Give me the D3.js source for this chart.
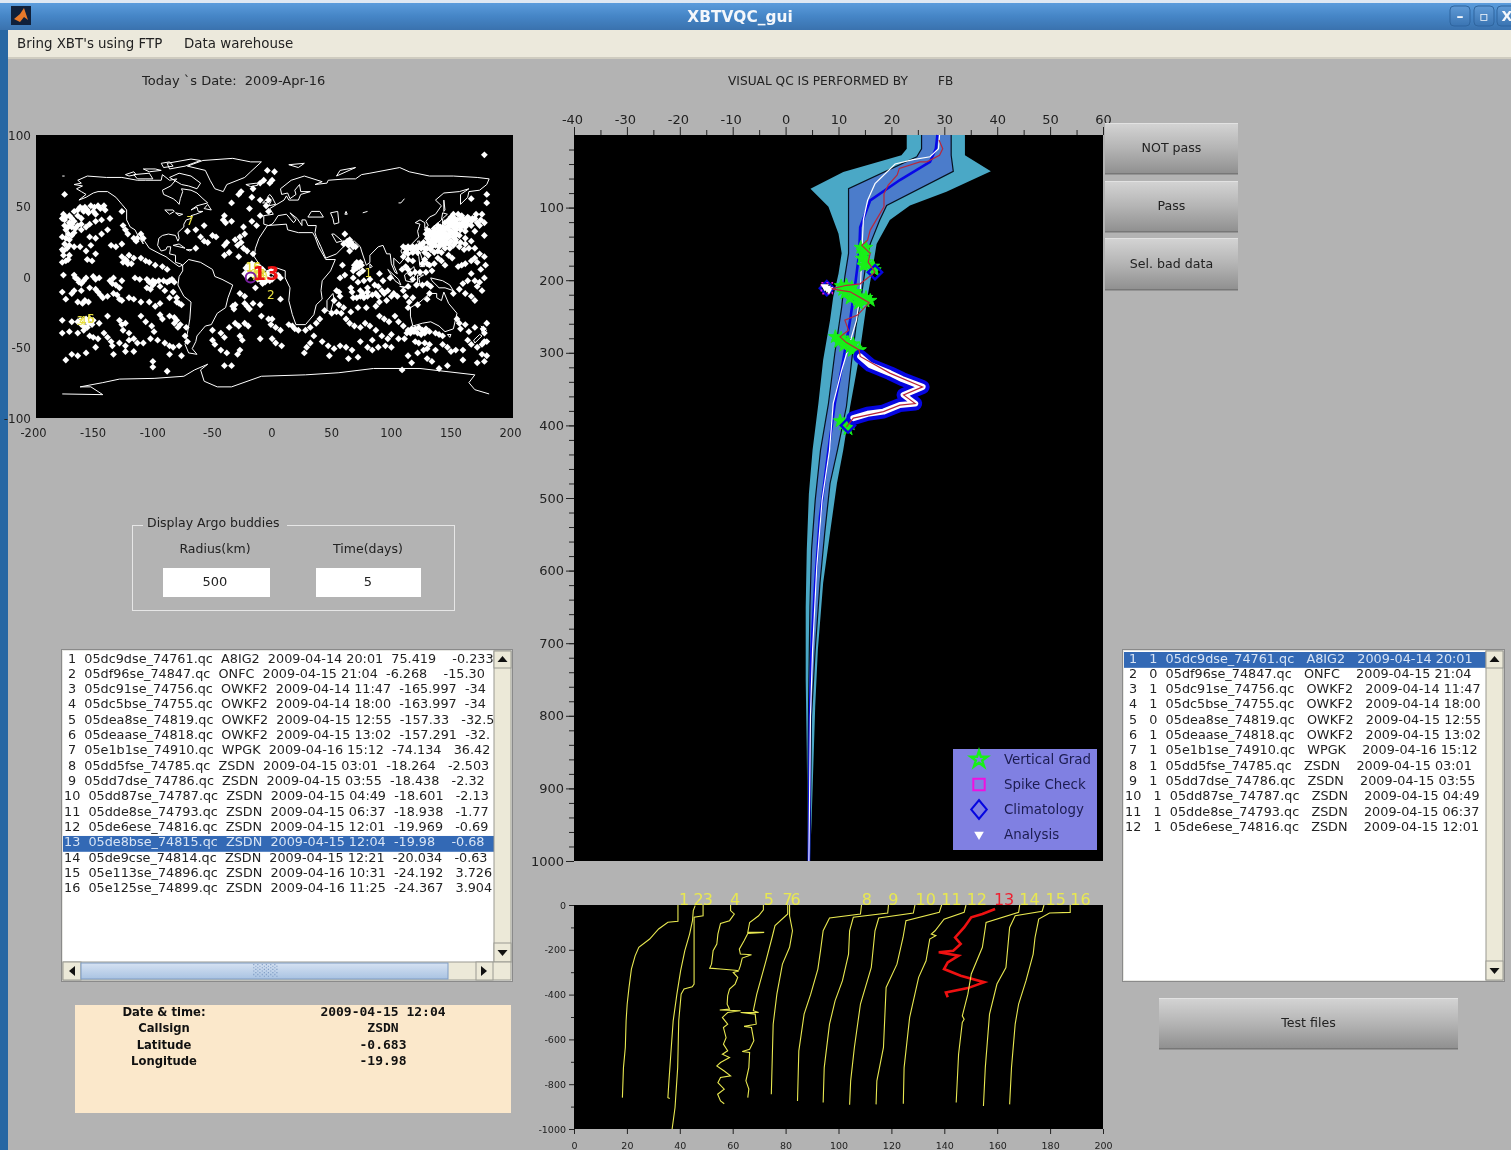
<!DOCTYPE html>
<html>
<head>
<meta charset="utf-8">
<title>XBTVQC_gui</title>
<script src="https://cdn.jsdelivr.net/npm/d3@7"></script>
<style>
html, body { margin: 0; padding: 0; background: #b3b3b3; overflow: hidden; }
svg { filter: blur(0.35px); }
text { font-family: "DejaVu Sans", sans-serif; fill: #222; white-space: pre; }
.tick text { font-family: "DejaVu Sans", sans-serif; fill: #222; }
.tick line { stroke: #222; }
.domain { display: none; }
</style>
</head>
<body>
<div id="gui"></div>
<script>
//Data

//list boxes
var xbtRows = [
  "1  05dc9dse_74761.qc  A8IG2  2009-04-14 20:01  75.419    -0.233",
  "2  05df96se_74847.qc  ONFC  2009-04-15 21:04  -6.268    -15.30",
  "3  05dc91se_74756.qc  OWKF2  2009-04-14 11:47  -165.997  -34",
  "4  05dc5bse_74755.qc  OWKF2  2009-04-14 18:00  -163.997  -34",
  "5  05dea8se_74819.qc  OWKF2  2009-04-15 12:55  -157.33   -32.5",
  "6  05deaase_74818.qc  OWKF2  2009-04-15 13:02  -157.291  -32.",
  "7  05e1b1se_74910.qc  WPGK  2009-04-16 15:12  -74.134   36.42",
  "8  05dd5fse_74785.qc  ZSDN  2009-04-15 03:01  -18.264   -2.503",
  "9  05dd7dse_74786.qc  ZSDN  2009-04-15 03:55  -18.438   -2.32",
  "10  05dd87se_74787.qc  ZSDN  2009-04-15 04:49  -18.601   -2.13",
  "11  05dde8se_74793.qc  ZSDN  2009-04-15 06:37  -18.938   -1.77",
  "12  05de6ese_74816.qc  ZSDN  2009-04-15 12:01  -19.969   -0.69",
  "13  05de8bse_74815.qc  ZSDN  2009-04-15 12:04  -19.98    -0.68",
  "14  05de9cse_74814.qc  ZSDN  2009-04-15 12:21  -20.034   -0.63",
  "15  05e113se_74896.qc  ZSDN  2009-04-16 10:31  -24.192   3.726",
  "16  05e125se_74899.qc  ZSDN  2009-04-16 11:25  -24.367   3.904"
];
var qcRows = [
  "1   1  05dc9dse_74761.qc   A8IG2   2009-04-14 20:01",
  "2   0  05df96se_74847.qc   ONFC    2009-04-15 21:04",
  "3   1  05dc91se_74756.qc   OWKF2   2009-04-14 11:47",
  "4   1  05dc5bse_74755.qc   OWKF2   2009-04-14 18:00",
  "5   0  05dea8se_74819.qc   OWKF2   2009-04-15 12:55",
  "6   1  05deaase_74818.qc   OWKF2   2009-04-15 13:02",
  "7   1  05e1b1se_74910.qc   WPGK    2009-04-16 15:12",
  "8   1  05dd5fse_74785.qc   ZSDN    2009-04-15 03:01",
  "9   1  05dd7dse_74786.qc   ZSDN    2009-04-15 03:55",
  "10   1  05dd87se_74787.qc   ZSDN    2009-04-15 04:49",
  "11   1  05dde8se_74793.qc   ZSDN    2009-04-15 06:37",
  "12   1  05de6ese_74816.qc   ZSDN    2009-04-15 12:01"
];
var infoLabels = ["Date & time:", "Callsign", "Latitude", "Longitude"];
var infoValues = ["2009-04-15 12:04", "ZSDN", "-0.683", "-19.98"];
var legendLabels = ["Vertical Grad", "Spike Check", "Climatology", "Analysis"];

//map: [lon, lat]
var mapTicksX = [-200, -150, -100, -50, 0, 50, 100, 150, 200];
var mapTicksY = [-100, -50, 0, 50, 100];
var buddyLabels = [
  ["1", 75.4, -0.2], ["2", -6.3, -15.3], ["3", -166, -34], ["4", -164, -34], ["5", -157.3, -32.5], ["6", -157.3, -32.3],
  ["7", -74.1, 36.4], ["8", -18.3, -2.5], ["9", -18.4, -2.3], ["10", -18.6, -2.1], ["11", -18.9, -1.8], ["12", -20, -0.7],
  ["14", -20, -0.6], ["15", -24.2, 3.7], ["16", -24.4, 3.9]
];
var selectedBuddy = ["13", -19.98, -0.68];
var argoPoints = [
  //north pacific
  [-176,58],[-163,49],[-161,48],[-159,49],[-157,47],[-154,50],[-151,49],[-148,50],[-146,48],[-143,50],[-142,47],[-178,41],[-175,42],[-172,43],[-170,41],[-168,39],[-172,38],[-176,40],[-165,43],[-162,41],[-175,33],[-170,35],[-167,34],[-165,36],[-162,33],[-158,35],[-155,37],[-150,39],[-145,40],[-140,33],[-138,41],[-128,46],[-127,36],[-125,33],[-123,30],[-118,27],[-116,25],[-115,27],[-112,30],[-110,27],[-155,28],[-150,27],[-145,30],[-176,23],[-174,20],[-177,18],[-172,22],[-168,21],[-163,21],[-158,18],[-154,22],[-150,16],[-172,15],[-177,15],[-175,11],[-173,12],[-178,10],[-157,12],[-153,11],[-137,22],[-133,21],[-128,23],[-122,15],[-128,14],[-125,12],[-124,11],[-127,10],[-123,9],[-120,9],[-118,13],[-112,13],[-108,11],[-105,10],[-100,8],[-94,7],[-90,5],
  //tropical pacific
  [-177,1],[-168,1],[-167,-1],[-165,-2],[-164,-4],[-162,-5],[-160,-3],[-158,-1],[-152,0],[-150,-2],[-147,-1],[-138,-3],[-135,-1],[-136,-5],[-133,-6],[-130,-8],[-128,-3],[-117,-1],[-113,-2],[-107,-2],[-105,-4],[-102,-3],[-100,-4],[-97,-3],[-93,-3],[-90,-4],[-88,-3],[-86,-2],[-84,-4],[-107,-8],[-104,-9],[-102,-6],[-96,-7],[-92,-10],[-85,-11],[-82,-15],[-150,-9],[-148,-11],[-146,-13],[-144,-15],[-140,-14],[-135,-12],[-132,-13],[-130,-16],[-128,-17],[-122,-15],[-118,-16],[-112,-18],[-105,-18],[-100,-21],[-96,-19],[-88,-15],[-82,-18],[-80,-19],[-78,-20],[-165,-18],[-161,-19],[-159,-17],[-156,-18],[-178,-11],[-175,-16],[-170,-12],[-168,-10],[-162,-10],[-155,-8],
  //south pacific
  [-178,-31],[-170,-32],[-165,-32],[-162,-34],[-159,-31],[-156,-33],[-153,-34],[-152,-31],[-147,-33],[-140,-28],[-130,-31],[-128,-34],[-125,-33],[-127,-38],[-122,-40],[-112,-28],[-108,-32],[-103,-35],[-101,-39],[-96,-27],[-94,-30],[-88,-28],[-84,-29],[-82,-31],[-84,-33],[-81,-36],[-79,-34],[-74,-36],[-178,-40],[-172,-39],[-165,-40],[-160,-38],[-155,-42],[-152,-43],[-148,-44],[-143,-40],[-140,-43],[-137,-46],[-136,-49],[-130,-47],[-125,-49],[-122,-45],[-118,-44],[-115,-47],[-110,-47],[-104,-44],[-98,-45],[-92,-47],[-88,-49],[-85,-50],[-80,-49],[-75,-42],[-73,-46],[-175,-59],[-170,-55],[-165,-56],[-158,-54],[-150,-50],[-135,-55],[-125,-53],[-118,-53],[-102,-60],[-102,-64],[-88,-55],[-78,-56],[-90,-67],
  //atlantic
  [-6,75],[0,74],[-9,68],[-2,68],[-4,66],[-12,66],[-18,62],[-28,60],[-30,58],[-19,56],[-12,54],[-5,54],[-7,50],[-36,52],[-21,48],[-5,46],[-12,43],[-42,43],[-43,40],[-41,38],[-36,39],[-26,35],[-15,36],[-19,39],[-49,28],[-42,22],[-40,24],[-33,26],[-29,28],[-25,30],[-31,22],[-28,24],[-26,20],[-42,15],[-18,16],[-66,20],[-73,32],[-66,33],[-59,36],[-62,28],[-52,29],[-59,25],[-56,24],[-23,18],[-30,14],[-38,17],[-22,8],[-24,6],[-21,5],[-19,7],[-17,4],[-20,2],[-18,1],[-15,3],[-13,1],[-12,-1],[-11,-3],[-9,-1],[-8,-4],[-7,-2],[-10,5],[-6,2],[-3,4],[-1,3],[3,1],[-2,-2],[5,-1],[-25,-14],[-29,-12],[-35,-21],[-34,-23],[-33,-20],[-25,-19],[-23,-21],[-21,-23],[-18,-19],[-12,-20],[-33,-33],[-30,-35],[-25,-33],[-22,-35],[-11,-28],[-5,-30],[-2,-30],[-3,-34],[1,-36],[5,-16],[5,-38],[12,-34],[15,-35],[17,-37],[20,-38],[-45,-40],[-42,-43],[-52,-45],[-50,-48],[-29,-42],[-27,-45],[-12,-44],[-2,-44],[1,-47],[6,-49],[-45,-52],[-40,-54],[-29,-52],[-31,-55],[-42,-63],[-36,-63],[-52,-38],[-38,-36],[-16,-8],
  //indian ocean
  [59,30],[58,23],[62,22],[64,24],[66,21],[63,18],[57,8],[59,1],[55,-1],[52,-10],[54,-11],[55,-14],[50,-17],[54,-20],[58,-22],[52,-25],[56,-26],[48,-26],[42,-24],[38,-30],[35,-33],[30,-36],[26,-38],[33,-42],[40,-46],[45,-49],[50,-51],[55,-49],[60,-50],[65,-52],[70,-57],[46,-56],[62,-58],[25,-54],[27,-50],[30,-47],[68,8],[70,9],[72,10],[69,6],[74,4],[71,2],[66,-1],[64,-8],[70,-4],[75,-3],[80,-2],[84,-6],[87,-7],[91,-3],[97,-1],[88,2],[78,-8],[72,-10],[74,-12],[78,-11],[65,-11],[66,-15],[69,-15],[72,-14],[75,-15],[78,-14],[82,-13],[85,-12],[87,-14],[90,-10],[92,-12],[95,-10],[98,-14],[100,-12],[103,-14],[94,-17],[88,-18],[85,-21],[77,-22],[70,-22],[64,-25],[60,-30],[63,-33],[67,-35],[72,-36],[76,-33],[80,-35],[88,-28],[92,-30],[96,-32],[101,-28],[104,-32],[108,-35],[85,-38],[72,-46],[82,-45],[90,-42],[95,-44],[98,-41],[78,-50],[82,-52],[87,-50],[93,-49],[98,-50],[112,-38],[115,-37],[118,-37],[121,-36],[124,-38],[127,-37],[111,-40],[114,-40],[117,-39],[120,-40],[123,-41],[126,-40],[130,-39],[135,-40],[138,-41],[141,-42],[104,-44],[109,-44],[118,-46],[121,-47],[126,-47],[130,-48],[128,-51],[141,-48],[145,-50],[148,-53],[152,-52],[158,-52],[135,-52],[112,-56],[120,-54],[125,-52],[128,-58],[132,-60],[115,-61],[107,-66],[138,-65],[145,-63],[158,-59],[170,-61],[176,-60],[178,-56],[174,-55],
  //australia to dateline
  [153,-30],[155,-33],[156,-37],[160,-34],[163,-39],[168,-36],[175,-37],[176,-40],[178,-33],[176,-46],[165,-48],[162,-45],[170,-50],[174,-48],[178,-46],[130,-12],[128,-16],[120,-20],[113,-18],[116,-15],[110,-14],[112,-22],[150,-12],[155,-9],[160,-12],[165,-14],[168,-17],[170,-7],[174,-10],[172,-4],[158,-5],[162,-3],[165,2],[168,-3],[176,-1],
  //western pacific
  [176,86],[178,58],[178,52],[165,55],[174,44],[169,44],[176,38],[172,36],[176,29],[166,41],[162,42],[160,40],[157,43],[154,44],[150,44],[165,36],[168,32],[160,32],[148,42],[146,40],[143,38],[152,38],[155,37],[158,38],[162,37],[150,35],[147,36],[143,34],[138,32],[135,31],[130,29],[128,27],[132,26],[137,27],[141,26],[145,27],[150,28],[155,29],[160,27],[165,25],[134,24],[132,21],[129,24],[138,21],[142,22],[146,23],[150,22],[155,21],[159,19],[163,20],[168,20],[172,16],[176,14],[177,8],[173,5],[170,10],[168,13],[165,11],[160,9],[157,8],[154,7],[146,15],[149,13],[143,8],[140,11],[137,13],[134,9],[140,32],[142,33],[146,33],[149,31],[152,33],[156,33],[134,34],[137,36],[141,30],[143,28],[147,30],[152,29],[139,27],[134,28],[130,32],[128,33],[127,30],
  [108,21],[111,19],[114,20],[117,19],[119,21],[122,22],[124,23],[125,24],[120,17],[116,17],[112,16],[110,17],[108,14],[112,12],[116,11],[126,17],[129,15],[126,12],[128,9],[130,8],[124,9],[132,4],[127,3],[122,3],[118,3],[110,7],[107,5],[112,5],[114,2],[116,-2],[119,-6],[124,-6],[128,-5],[131,-7],[112,-7],[108,-10],
  //the denser patches
  [132,30],[134,32],[136,29],[138,30],[140,28],[142,31],[144,30],[146,28],[148,32],[150,30],[152,31],[136,26],[138,25],[140,24],[142,25],[144,24],[148,25],[152,26],[133,28],[135,27],[137,34],[139,35],[141,35],[145,35],[149,37],[151,36],[153,35],[156,35],[158,36],[160,35],[146,38],[149,39],[151,41],[153,40],[156,41],[158,41],[161,39],[163,41],[165,39],[168,41],[170,38],[173,40],[131,23],[135,22],[139,23],[143,20],[147,20],[152,24],[156,24],[160,23],[131,19],[134,17],[137,18],[140,17],[128,20],[126,20],[123,20],[120,20],[116,21],[112,21],[110,20],
  [-19,9],[-17,8],[-14,7],[-12,6],[-22,3],[-20,5],[-16,6],[-14,4],[-8,1],[-5,-1],[-4,-3],[-10,-5],[-16,0],[-14,-2],[-23,0],[-25,2],[67,8],[69,10],[71,7],[73,8],[67,6],[66,4],[61,25],[63,26],[65,23],[68,21],[-158,-30],[-155,-30],[-161,-32],[-163,-31],[-157,-36],[-160,-35],[-173,30],[-170,29],[-168,31],[-176,36],[-173,35],[-177,44],[-168,46],[-165,47],[-160,46],[-156,45],[-152,46],[-150,44],[-170,37],[-162,37],[-178,28],[-175,27],[-172,26],[-178,19]
];
var coastlines = [
  //north america
  [[-168,65],[-162,66],[-165,68],[-157,71],[-141,70],[-128,70],[-115,68],[-108,68],[-95,68],[-94,72],[-88,68],[-82,69],[-87,64],[-94,61],[-93,58],[-85,55],[-82,53],[-80,51],[-79,55],[-77,60],[-78,62],[-70,61],[-65,59],[-60,55],[-56,52],[-65,50],[-70,47],[-65,49],[-64,46],[-60,46],[-66,44],[-70,43],[-70,41],[-74,40],[-76,37],[-76,35],[-81,31],[-80,27],[-81,25],[-83,29],[-89,30],[-94,29],[-97,27],[-98,22],[-95,18],[-91,19],[-90,21],[-87,21],[-88,16],[-83,15],[-83,10],[-79,9],[-77,8],[-80,7],[-85,10],[-91,14],[-96,16],[-105,20],[-109,25],[-113,31],[-112,27],[-110,23],[-114,28],[-117,33],[-121,35],[-124,40],[-124,47],[-128,51],[-133,56],[-140,60],[-148,60],[-152,59],[-158,56],[-164,54],[-158,58],[-162,60],[-166,62],[-161,64],[-168,65]],
  [[-80,73],[-70,71],[-62,66],[-65,62],[-72,64],[-78,65],[-88,70],[-80,73]],
  [[-118,72],[-105,73],[-102,69],[-115,69],[-118,72]],
  [[-90,80],[-70,83],[-62,82],[-75,78],[-88,76],[-90,80]],
  [[-125,72],[-118,74],[-116,72],[-122,71],[-125,72]],
  [[-110,76],[-100,76],[-95,75],[-105,74],[-110,76]],
  [[-95,80],[-88,81],[-85,78],[-93,77],[-95,80]],
  [[-92,47],[-85,47],[-84,46],[-88,44],[-92,47]],
  [[-83,45],[-80,43],[-77,44],[-83,45]],
  [[-178,71],[-176,71]],
  [[-73,78],[-60,82],[-35,83.5],[-20,81],[-11,81],[-20,74],[-25,70],[-40,65],[-43,60],[-50,62],[-54,68],[-58,75],[-73,78]],
  [[-24,65],[-15,66],[-14,64.5],[-20,63.5],[-24,65]],
  [[-59,48],[-56,51],[-53,47],[-59,48]],
  [[-85,22],[-75,20],[-80,23],[-85,22]],
  [[-74,19],[-69,19],[-71,18],[-74,19]],
  //south america
  [[-77,8],[-72,12],[-62,10],[-52,5],[-50,0],[-44,-2],[-35,-6],[-39,-15],[-41,-22],[-48,-26],[-53,-34],[-58,-35],[-62,-39],[-65,-42],[-66,-46],[-69,-51],[-65,-55],[-72,-54],[-75,-48],[-73,-40],[-71,-30],[-70,-18],[-76,-14],[-81,-6],[-80,0],[-77,4],[-77,8]],
  //africa
  [[-6,36],[10,37],[11,33],[20,31],[32,31],[34,28],[37,21],[43,12],[51,12],[47,4],[40,-3],[39,-10],[40,-16],[35,-20],[33,-27],[26,-34],[18,-34],[15,-27],[12,-17],[13,-8],[9,-1],[9,4],[2,6],[-7,4],[-13,9],[-17,14],[-16,20],[-13,27],[-6,36]],
  //eurasia
  [[-9,37],[-9,43],[-1,44],[-4,48],[2,51],[8,54],[10,57],[12,54],[20,54],[22,58],[30,60],[22,60],[21,65],[17,61],[18,58],[13,55],[11,59],[6,58],[5,62],[14,68],[25,71],[40,67],[34,65],[44,66],[45,68],[60,69],[68,69],[73,72],[80,73],[105,77],[113,74],[130,71],[150,71],[170,70],[180,69],[178,65],[172,61],[163,60],[162,56],[156,51],[156,58],[163,62],[155,60],[142,59],[135,54],[140,50],[135,44],[130,42],[127,39],[129,36],[126,34],[126,38],[122,40],[118,38],[122,37],[120,32],[121,28],[114,22],[108,21],[106,18],[109,13],[105,9],[100,13],[100,8],[103,2],[101,3],[98,9],[97,16],[94,16],[91,22],[87,21],[80,15],[80,10],[77,8],[73,18],[72,21],[67,25],[57,25],[50,30],[48,30],[52,24],[56,25],[59,22],[52,16],[43,13],[39,21],[35,28],[34,31],[35,36],[28,36],[26,40],[23,40],[23,36],[19,41],[13,45],[18,40],[16,38],[10,44],[3,43],[0,39],[-2,37],[-5,36],[-9,37]],
  [[28,42],[41,42],[38,46],[31,46],[28,42]],
  [[47,45],[53,46],[54,38],[50,37],[49,41],[47,45]],
  [[60,46],[61,44],[59,44],[60,46]],
  [[78,46],[74,45]],
  [[109,55],[106,52],[104,52]],
  [[-5,50],[1,51],[-2,56],[-4,58],[-6,56],[-3,53],[-5,50]],
  [[-10,52],[-6,55],[-6,52],[-10,52]],
  [[130,32],[136,34],[141,36],[141,41],[145,44],[141,45],[140,40],[133,35],[130,32]],
  [[142,54],[143,47],[142,46],[142,54]],
  [[120,25],[122,25],[121,22],[120,25]],
  [[120,18],[122,17],[124,12],[126,7],[122,7],[121,14],[120,18]],
  [[109,1],[117,7],[118,1],[115,-4],[110,-3],[109,1]],
  [[95,5],[104,-2],[106,-6],[101,-3],[95,5]],
  [[105,-7],[114,-8],[110,-8],[105,-7]],
  [[120,1],[125,1],[121,-1],[122,-5],[120,-5],[120,1]],
  [[131,-1],[141,-3],[147,-6],[150,-10],[143,-8],[138,-8],[132,-3],[131,-1]],
  //australia
  [[114,-22],[122,-18],[130,-12],[136,-12],[136,-15],[140,-17],[142,-11],[146,-19],[153,-26],[150,-37],[143,-39],[138,-35],[131,-32],[124,-33],[116,-35],[114,-28],[114,-22]],
  [[145,-41],[148,-41],[147,-43],[145,-41]],
  [[173,-35],[178,-38],[175,-41],[173,-37]],
  [[172,-41],[174,-42],[168,-47],[167,-45],[172,-41]],
  [[49,-12],[50,-16],[47,-25],[44,-24],[44,-17],[49,-12]],
  [[80,9],[82,7],[80,6],[80,9]],
  [[52,71],[55,75],[68,77],[60,74],[52,71]],
  [[12,79],[25,80],[20,77],[12,79]],
  //antarctica
  [[-178,-83],[-144,-83.5],[-154,-78],[-163,-78],[-144,-75],[-130,-72.5],[-101,-72],[-76,-70.5],[-67,-66],[-56,-62],[-62,-66],[-59,-74],[-48,-78],[-36,-78],[-11,-70.5],[26,-69.5],[54,-68],[83,-65],[122,-65],[168,-69.5],[163,-75],[168,-80],[180,-83]]
];

//temperature profile: [temp, depth]
var tempTicks = [-40, -30, -20, -10, 0, 10, 20, 30, 40, 50, 60];
var depthTicks = [100, 200, 300, 400, 500, 600, 700, 800, 900, 1000];
var outerLeft = [[22.9,0],[22.9,19],[21.9,28],[10.9,51],[4.7,74],[8.1,99],[10,136],[10.6,163],[10,191],[9,223],[8.4,255],[7.1,310],[6.2,370],[5.1,434],[4.4,494],[4,572],[3.8,650],[3.8,751],[4,847],[4.2,1000]];
var outerRight = [[33.9,0],[33.9,28],[38.8,50],[30.4,78],[23.5,97],[19.7,117],[17.2,150],[16.6,177],[15.6,218],[14.7,264],[13.8,310],[13.1,338],[12.2,374],[10.9,434],[9.7,480],[8.4,548],[7.1,617],[6.1,709],[5.6,787],[4.9,947],[4.6,1000]];
var innerLeft = [[25.7,0],[25.7,19],[24.8,30],[11.9,74],[11.9,136],[11.9,163],[11.2,195],[10.6,237],[9.3,301],[8.1,370],[6.6,434],[5.6,503],[4.9,572],[4.6,650],[4.4,751],[4.2,893],[4.2,1000]];
var innerRight = [[31.3,0],[31.3,28],[31.7,50],[19.1,97],[17.8,117],[16,150],[15.2,177],[14.4,218],[13.3,264],[12.5,310],[11.5,374],[9.8,434],[8.4,480],[7.4,548],[6.5,617],[5.6,709],[4.9,801],[4.6,1000]];
var climMean = [[28.7,0],[28.4,19],[27.3,37],[21.6,62],[16,90],[14.1,127],[13.9,163],[13.1,209],[12.2,255],[10.9,310],[9.3,370],[8.1,434],[6.5,526],[5.6,617],[4.9,709],[4.6,801],[4.4,1000]];
var analysisLine = [[29.1,0],[28.9,19],[27.3,30],[24.1,34],[20.7,40],[16.9,67],[15.5,90],[14.7,117],[14.4,163],[14.1,218],[13.4,255],[11.9,292],[10.6,324],[9,370],[8.3,434],[6.9,503],[5.9,594],[5.1,709],[4.7,801],[4.4,1000]];
var xbtProfile = [[29,7],[29.7,19],[29.1,28],[26.7,37],[25.4,37],[21.5,46],[21.1,55],[19.4,69],[18.6,81],[18.6,99],[16,131],[15.5,145],[14.4,152],[16,163],[15.6,175],[16.9,189],[14.1,205],[11.5,207],[8.7,212],[12.2,216],[15.8,231],[13.6,248],[11.2,255],[11.9,269],[10.3,278],[11.5,286],[13.9,296],[14.1,305],[19.7,328],[25.9,347],[22.3,358],[24.5,370],[21.6,372],[18.5,381],[12.8,390],[11.5,402]];
var badSegment = [[14.1,305],[16,317],[19.7,328],[22,336],[25.9,347],[22.3,358],[24.5,370],[21.6,372],[18.5,381],[15.5,384],[12.8,390]];
var vertGradPts = [[14.2,155],[15.2,155],[14.6,160],[14.9,165],[14.4,170],[15,175],[15.6,178],[14.8,180],[16.5,181],[16.8,186],[10.5,208],[11.5,207],[12.5,210],[10.8,213],[12,214],[13.2,216],[11.2,218],[12.8,220],[14,222],[15.2,224],[12.2,225],[13.6,227],[15,229],[16,228],[13.8,232],[9.4,278],[10.5,280],[11,283],[10,285],[11.8,286],[12.8,288],[11,290],[12.2,292],[13.2,294],[14,296],[12.6,297],[10.3,394],[11,398],[11.6,400],[11.8,405],[12.2,398]];
var climatePts = [[16.9,189],[7.8,211],[11.8,400]];
var spikePts = [[7.8,211]];
var analysisPts = [[7.8,211],[7.4,209],[8.2,213]];

//waterfall of the profiles: [offset temp, depth]
var waterLabels = ["1","2","3","4","5","7","6","8","9","10","11","12","13","14","15","16"];
var waterLabelX = [41.6,47.1,50.6,60.9,73.7,80.8,83.8,110.7,120.7,133,142.7,152.3,162.6,172.2,182.1,191.5];
var waterTicksX = [0,20,40,60,80,100,120,140,160,180,200];
var waterTicksY = [0,-200,-400,-600,-800,-1000];
var water = [
  [[39.3,0],[39.3,73],[35.5,77],[32,107],[28.6,152],[24.5,189],[23.1,227],[21.7,286],[20.8,368],[20.1,443],[19.7,517],[19.4,636],[18.7,726],[18.3,860]],
  [[45.8,3],[45.1,25],[44.8,70],[43.7,130],[41.9,204],[40.3,294],[38.9,398],[37.5,517],[36.6,666],[35.9,785],[35.5,860],[36.2,864]],
  [[48.8,0],[48.8,48],[45.4,55],[45.4,353],[44.7,365],[41.6,375],[40.5,398],[39.6,517],[39.2,726],[38.2,904],[37.1,1000]],
  [[59.2,0],[59.2,25],[60.6,40],[58.8,70],[55.4,82],[54.4,130],[54,174],[52.6,204],[52,264],[51.3,282],[55.4,286],[60.9,291],[62.3,294],[60.2,301],[61.9,323],[60.9,353],[58.8,375],[58.1,405],[57.9,443],[58.8,465],[55.1,469],[63,472],[58.1,480],[56.1,502],[58.1,532],[56.5,547],[57.5,592],[56.5,621],[58.1,651],[56.1,666],[58.8,681],[55.4,703],[54,718],[56.8,741],[59.2,763],[55.4,770],[54.4,793],[56.8,822],[54.3,845],[55.4,875],[56.8,887]],
  [[71.6,0],[71.6,22],[69.8,48],[66.4,78],[65.7,122],[71.9,122],[65.7,127],[64.3,160],[62.5,197],[62.9,219],[67.1,222],[63.6,237],[62.9,271],[62.3,291]],
  [[80.8,0],[80.8,40],[76,92],[74.9,144],[72.6,248],[69.1,398],[67.8,472],[69.8,480],[63,480],[68.5,487],[68.9,532],[64.3,542],[67.1,547],[68,606],[66.4,644],[63.6,654],[66.4,658],[66.1,726],[65,785],[66.1,822],[65.7,860]],
  [[81.5,0],[81.5,48],[82.6,115],[81.5,189],[78.8,264],[76.7,398],[75.3,532],[74.6,845]],
  [[108.7,0],[108.3,40],[96.6,58],[94.2,115],[93.2,204],[92.2,286],[89.5,398],[87,487],[85,651],[84.5,875]],
  [[118.9,0],[118.6,36],[105.6,55],[104.2,115],[103.8,219],[101.5,338],[98.7,428],[96.6,532],[94.6,726],[94.2,882]],
  [[128.9,0],[128.3,36],[115.2,58],[113.8,115],[112.4,279],[108.3,442],[106,636],[104.6,785],[104.2,892]],
  [[139,0],[138.1,33],[125.5,70],[124.4,145],[122.1,264],[118,368],[117,636],[114.5,785],[114.2,890]],
  [[148.2,0],[147.5,33],[139.9,63],[136.5,115],[135.1,130],[136.8,137],[134.5,152],[133.1,249],[130.3,323],[126.9,502],[124.8,726],[124.5,887]],
  [[159.2,18],[154.4,40],[150.2,55],[147.5,100],[144.1,145],[146.2,174],[143.4,204],[137.9,211],[145.4,226],[141.3,256],[139.9,286],[146.2,316],[155.1,345],[148.9,371],[140.6,390],[141.3,412]],
  [[168.5,0],[168.1,33],[155.8,78],[154.4,189],[150.2,308],[148.9,398],[146.8,495],[147.5,510],[146.8,524],[145.4,666],[144.5,882]],
  [[177.7,0],[177,28],[166.8,48],[164.7,100],[163.3,279],[159.9,353],[157.1,487],[155.5,726],[154.8,897]],
  [[187.6,0],[187.6,33],[179.8,36],[175.7,63],[174.3,145],[173.6,219],[170.9,338],[168.1,442],[166.8,532],[165.4,726],[164.7,890]]
];
var selectedWater = 12;

var svg = d3.select("#gui").append("svg")
    .attr("width", 1511)
    .attr("height", 1150)
    .style("display", "block");

var defs = svg.append("defs");
function gradient(id, stops) {
  var g = defs.append("linearGradient").attr("id", id).attr("x1", 0).attr("y1", 0).attr("x2", 0).attr("y2", 1);
  stops.forEach(function(s, i) {
    g.append("stop").attr("offset", i / (stops.length - 1)).attr("stop-color", s);
  });
}
gradient("titleGrad", ["#5b9cdc", "#4585c6", "#3a72ae"]);
gradient("btnGrad", ["#d4d4d4", "#b4b4b4", "#8f8f8f"]);
gradient("winBtn", ["#5f9ad6", "#3a74b2"]);
gradient("thumbGrad", ["#d6e2f2", "#a9c3e2"]);

function rect(parent, x, y, w, h, fill, stroke) {
  return parent.append("rect").attr("x", x).attr("y", y).attr("width", w).attr("height", h)
    .attr("fill", fill).attr("stroke", stroke || "none");
}
function label(parent, x, y, str, size, anchor) {
  return parent.append("text").attr("x", x).attr("y", y).attr("font-size", size)
    .attr("text-anchor", anchor || "start").attr("dominant-baseline", "middle").text(str);
}

//window chrome
rect(svg, 0, 0, 1511, 1150, "#b3b3b3");
rect(svg, 0, 0, 8, 1150, "#2767a3");
rect(svg, 0, 0, 1511, 3, "#dfe8f3");
rect(svg, 0, 3, 1511, 27, "url(#titleGrad)");
rect(svg, 11, 6, 20, 19, "#10203a");
svg.append("path").attr("d", "M14 19 L20 14 L24 8 L28 20 L24 17 L20 22 Z").attr("fill", "#e8792a");
label(svg, 740, 17, "XBTVQC_gui", 15.4, "middle").style("font-weight", "bold").style("fill", "#f4f7fb");
[[1450, "\u2013"], [1474, "\u25ab"], [1497, "X"]].forEach(function(b) {
  rect(svg, b[0], 6, 20, 20, "url(#winBtn)", "#2f659f").attr("rx", 4);
  label(svg, b[0] + 10, 17, b[1], 14, "middle").style("font-weight", "bold").style("fill", "#f4f7fb");
});
rect(svg, 8, 30, 1503, 27, "#ece9dc");
rect(svg, 8, 57, 1503, 2, "#cfccc0");
label(svg, 17, 44, "Bring XBT's using FTP", 13.4);
label(svg, 184, 44, "Data warehouse", 13.4);
label(svg, 142, 81, "Today `s Date:  2009-Apr-16", 13);
label(svg, 728, 81, "VISUAL QC IS PERFORMED BY", 12.2);
label(svg, 938, 81, "FB", 12);

//Map
var mapX = d3.scaleLinear().domain([-200, 200]).range([36, 513]);
var mapY = d3.scaleLinear().domain([-100, 100]).range([418, 135]);
rect(svg, 36, 135, 477, 283, "#000");
var coastLine = d3.line().x(function(d) { return mapX(d[0]); }).y(function(d) { return mapY(d[1]); });
svg.append("g").selectAll("path").data(coastlines).join("path")
    .attr("d", coastLine)
    .attr("fill", "none")
    .attr("stroke", "#fff")
    .attr("stroke-width", 1);
svg.append("g").selectAll("path").data(argoPoints).join("path")
    .attr("d", d3.symbol().type(d3.symbolDiamond2).size(30))
    .attr("transform", function(d) { return "translate(" + mapX(d[0]) + "," + mapY(d[1]) + ")"; })
    .attr("fill", "#fff");
svg.append("g").selectAll("text").data(buddyLabels).join("text")
    .attr("x", function(d) { return mapX(d[1]); })
    .attr("y", function(d) { return mapY(d[2]) - 3; })
    .attr("font-size", 12)
    .attr("dominant-baseline", "middle")
    .style("fill", "#e8e040")
    .text(function(d) { return d[0]; });
svg.append("circle")
    .attr("cx", mapX(selectedBuddy[1]))
    .attr("cy", mapY(selectedBuddy[2]))
    .attr("r", 5)
    .attr("fill", "none")
    .attr("stroke", "#7a20a0")
    .attr("stroke-width", 2);
svg.append("text")
    .attr("x", mapX(selectedBuddy[1]) + 2)
    .attr("y", mapY(selectedBuddy[2]) - 3)
    .attr("font-size", 19)
    .attr("font-weight", "bold")
    .attr("dominant-baseline", "middle")
    .style("fill", "#ee1111")
    .text(selectedBuddy[0]);
svg.append("g").attr("transform", "translate(0,418)")
    .call(d3.axisBottom(mapX).tickValues(mapTicksX).tickSize(0).tickPadding(11).tickFormat(String))
    .selectAll("text").attr("font-size", 11.5).attr("dx", -3);
svg.append("g").attr("transform", "translate(36,0)")
    .call(d3.axisLeft(mapY).tickValues(mapTicksY).tickSize(0).tickPadding(5).tickFormat(String))
    .selectAll("text").attr("font-size", 12).attr("dy", "0.38em");

//Argo buddies box
rect(svg, 132.5, 525.5, 322, 85, "none", "#e6e6e6");
rect(svg, 143, 518, 144, 12, "#b3b3b3");
label(svg, 147, 523, "Display Argo buddies", 12.5);
label(svg, 215, 549, "Radius(km)", 12.5, "middle");
label(svg, 368, 549, "Time(days)", 12.5, "middle");
rect(svg, 163, 568, 107, 29, "#fff");
rect(svg, 316, 568, 105, 29, "#fff");
label(svg, 215, 582, "500", 13, "middle");
label(svg, 368, 582, "5", 13, "middle");

//list boxes
function listBox(x, y, w, h, rows, selected, textX, barLeft, hBar) {
  var id = "clip" + x;
  defs.append("clipPath").attr("id", id).append("rect").attr("x", x).attr("y", y).attr("width", barLeft - x).attr("height", h);
  rect(svg, x - 1.5, y - 1.5, w + 3, h + 3, "#e8e8e4", "#8a8a8a");
  rect(svg, x, y, barLeft - x, h, "#fff");
  var rowH = 15.33;
  var g = svg.append("g").attr("clip-path", "url(#" + id + ")");
  g.selectAll("rect").data(rows.filter(function(r, i) { return i === selected; })).join("rect")
      .attr("x", x).attr("y", y + 1 + selected * rowH).attr("width", barLeft - x).attr("height", rowH + 0.5)
      .attr("fill", "#3369b5");
  g.selectAll("text").data(rows).join("text")
      .attr("x", function(d) { return textX + (d.charAt(1) === " " ? 4 : 0); })
      .attr("y", function(d, i) { return y + 8 + i * rowH; })
      .attr("font-size", 12.8)
      .attr("dominant-baseline", "middle")
      .style("fill", function(d, i) { return i === selected ? "#d8e4f4" : "#222"; })
      .text(function(d) { return d; });
  //vertical scrollbar
  var bw = x + w - barLeft;
  rect(svg, barLeft, y, bw, h - (hBar ? 18 : 0), "#ece9d8", "#9a9a92");
  rect(svg, barLeft, y, bw, 17, "#ece9d8", "#9a9a92");
  var bottom = y + h - (hBar ? 18 : 0);
  rect(svg, barLeft, bottom - 19, bw, 19, "#ece9d8", "#9a9a92");
  svg.append("path").attr("d", "M" + (barLeft + bw / 2 - 5) + " " + (y + 11) + "h10l-5 -6z").attr("fill", "#111");
  svg.append("path").attr("d", "M" + (barLeft + bw / 2 - 5) + " " + (bottom - 12) + "h10l-5 6z").attr("fill", "#111");
  if (hBar) {
    rect(svg, x, y + h - 18, w, 18, "#ece9d8", "#9a9a92");
    rect(svg, x, y + h - 18, 18, 18, "#ece9d8", "#9a9a92");
    rect(svg, x + 18, y + h - 17, 367, 16, "url(#thumbGrad)", "#7f9cc4");
    label(svg, x + 203, y + h - 9, "\u2591\u2591\u2591", 11, "middle").style("fill", "#7f9cc4");
    rect(svg, x + 413, y + h - 18, 17, 18, "#ece9d8", "#9a9a92");
    svg.append("path").attr("d", "M" + (x + 6) + " " + (y + h - 9) + "l6 -5v10z").attr("fill", "#111");
    svg.append("path").attr("d", "M" + (x + 424) + " " + (y + h - 9) + "l-6 -5v10z").attr("fill", "#111");
  }
}
listBox(63, 651, 448, 329, xbtRows, 12, 64, 494, true);
listBox(1124, 651, 379, 329, qcRows, 0, 1125, 1486, false);

//info box
rect(svg, 75, 1005, 436, 108, "#fbe8cb");
infoLabels.forEach(function(d, i) {
  label(svg, 164, 1012 + i * 16.5, d, 11.6, "middle").style("font-weight", "bold").style("fill", "#111");
});
infoValues.forEach(function(d, i) {
  label(svg, 383, 1012 + i * 16.5, d, 13, "middle").style("font-weight", "bold").style("fill", "#111").style("font-family", "'DejaVu Sans Mono'");
});

//Main chart
var x = d3.scaleLinear().domain([-40, 60]).range([574, 1103]);
var y = d3.scaleLinear().domain([0, 1000]).range([135, 861]);
rect(svg, 574, 135, 529, 726, "#000");

var profileLine = d3.line().x(function(d) { return x(d[0]); }).y(function(d) { return y(d[1]); });
function band(left, right) {
  return profileLine(left.concat(right.slice().reverse())) + "Z";
}
var plot = svg.append("g");
plot.append("path").attr("d", band(outerLeft, outerRight)).attr("fill", "#4aa8c6");
plot.append("path").attr("d", band(innerLeft, innerRight)).attr("fill", "#4b7ccb");
[innerLeft, innerRight].forEach(function(d) {
  plot.append("path").attr("d", profileLine(d)).attr("fill", "none").attr("stroke", "#06121f").attr("stroke-width", 1.2);
});
plot.append("path").attr("d", profileLine(climMean)).attr("fill", "none").attr("stroke", "#0808e8").attr("stroke-width", 2.6);
plot.append("path").attr("d", profileLine(analysisLine)).attr("fill", "none").attr("stroke", "#fff").attr("stroke-width", 1.2);
plot.selectAll(".star").data(vertGradPts).join("path").attr("class", "star")
    .attr("d", d3.symbol().type(d3.symbolStar).size(56))
    .attr("transform", function(d) { return "translate(" + x(d[0]) + "," + y(d[1]) + ")"; })
    .attr("fill", "#18f018").attr("stroke", "#18f018").attr("stroke-width", 1);
plot.append("path").attr("d", profileLine(badSegment)).attr("fill", "none").attr("stroke", "#0606e0")
    .attr("stroke-width", 14).attr("stroke-linejoin", "round").attr("stroke-linecap", "round");
plot.append("path").attr("d", profileLine(badSegment)).attr("fill", "none").attr("stroke", "#fff")
    .attr("stroke-width", 6).attr("stroke-linejoin", "round").attr("stroke-linecap", "round");
plot.selectAll(".clim").data(climatePts).join("path").attr("class", "clim")
    .attr("d", d3.symbol().type(d3.symbolDiamond2).size(130))
    .attr("transform", function(d) { return "translate(" + x(d[0]) + "," + y(d[1]) + ")"; })
    .attr("fill", "none").attr("stroke", "#0606e0").attr("stroke-width", 2.4);
plot.selectAll(".spike").data(spikePts).join("path").attr("class", "spike")
    .attr("d", d3.symbol().type(d3.symbolSquare).size(120))
    .attr("transform", function(d) { return "translate(" + x(d[0]) + "," + y(d[1]) + ")"; })
    .attr("fill", "none").attr("stroke", "#e018e0").attr("stroke-width", 1.6).attr("stroke-dasharray", "2 3");
plot.selectAll(".ana").data(analysisPts).join("path").attr("class", "ana")
    .attr("d", d3.symbol().type(d3.symbolTriangle).size(30))
    .attr("transform", function(d) { return "translate(" + x(d[0]) + "," + y(d[1]) + ") rotate(180)"; })
    .attr("fill", "#fff");
plot.append("path").attr("d", profileLine(xbtProfile)).attr("fill", "none").attr("stroke", "#b8283c").attr("stroke-width", 1.2);

//axes on the main chart
var xMinor = d3.range(-35, 60, 10);
var yMinor = d3.range(20, 1000, 20);
svg.append("g").attr("transform", "translate(0,135)")
    .call(d3.axisTop(x).tickValues(xMinor).tickSize(5).tickFormat(""));
svg.append("g").attr("transform", "translate(0,135)")
    .call(d3.axisTop(x).tickValues(tempTicks).tickSize(8).tickPadding(3).tickFormat(String))
    .selectAll("text").attr("font-size", 13).attr("dx", function(d) { return d < 0 ? -2 : 0; });
svg.append("g").attr("transform", "translate(574,0)")
    .call(d3.axisLeft(y).tickValues(yMinor).tickSize(5).tickFormat(""));
svg.append("g").attr("transform", "translate(574,0)")
    .call(d3.axisLeft(y).tickValues(depthTicks).tickSize(8).tickPadding(2).tickFormat(String))
    .selectAll("text").attr("font-size", 13);

//legend
rect(svg, 953, 749, 144, 101, "#8080e2");
var legendG = svg.append("g").selectAll("g").data(legendLabels).join("g")
    .attr("transform", function(d, i) { return "translate(979," + (759.5 + i * 25) + ")"; });
legendG.append("text").attr("x", 25).attr("y", 0).attr("font-size", 13.4).attr("dominant-baseline", "middle")
    .style("fill", "#1c1c50").text(function(d) { return d; });
legendG.filter(function(d, i) { return i === 0; }).append("path")
    .attr("d", d3.symbol().type(d3.symbolStar).size(85))
    .attr("fill", "none").attr("stroke", "#18f018").attr("stroke-width", 2.4);
legendG.filter(function(d, i) { return i === 1; }).append("path")
    .attr("d", d3.symbol().type(d3.symbolSquare).size(130))
    .attr("fill", "none").attr("stroke", "#f010e0").attr("stroke-width", 2);
legendG.filter(function(d, i) { return i === 2; }).append("path")
    .attr("d", d3.symbol().type(d3.symbolDiamond2).size(170))
    .attr("transform", "scale(0.95,1.15)")
    .attr("fill", "none").attr("stroke", "#0606e0").attr("stroke-width", 2);
legendG.filter(function(d, i) { return i === 3; }).append("path")
    .attr("d", d3.symbol().type(d3.symbolTriangle).size(40))
    .attr("transform", "rotate(180)")
    .attr("fill", "#fff");

//Waterfall chart
var wx = d3.scaleLinear().domain([0, 200]).range([574, 1103]);
var wy = d3.scaleLinear().domain([-1000, 0]).range([1129, 905]);
rect(svg, 574, 905, 529, 224, "#000");
var waterLine = d3.line().x(function(d) { return wx(d[0]); }).y(function(d) { return wy(-d[1]); });
svg.append("g").selectAll("path").data(water).join("path")
    .attr("d", waterLine)
    .attr("fill", "none")
    .attr("stroke", function(d, i) { return i === selectedWater ? "#ee1111" : "#e8e850"; })
    .attr("stroke-width", function(d, i) { return i === selectedWater ? 2.6 : 1.1; });
svg.append("g").selectAll("text").data(waterLabels).join("text")
    .attr("x", function(d, i) { return wx(waterLabelX[i]); })
    .attr("y", 900)
    .attr("font-size", 16)
    .attr("text-anchor", "middle")
    .attr("dominant-baseline", "middle")
    .style("fill", function(d) { return d === "13" ? "#ee2030" : "#e8e850"; })
    .text(function(d) { return d; });
svg.append("g").attr("transform", "translate(0,1129)")
    .call(d3.axisBottom(wx).tickValues(waterTicksX).tickSize(5).tickPadding(8).tickFormat(String))
    .selectAll("text").attr("font-size", 9.5);
svg.append("g").attr("transform", "translate(574,0)")
    .call(d3.axisLeft(wy).tickValues(d3.range(-900, 0, 200)).tickSize(3).tickFormat(""));
svg.append("g").attr("transform", "translate(574,0)")
    .call(d3.axisLeft(wy).tickValues(waterTicksY).tickSize(5).tickPadding(3).tickFormat(String))
    .selectAll("text").attr("font-size", 9.5);

//push buttons
function button(bx, by, w, h, str) {
  rect(svg, bx, by, w, h, "url(#btnGrad)");
  rect(svg, bx, by + h - 1, w, 1.5, "#777");
  rect(svg, bx, by, w, 1, "#e2e2e2");
  label(svg, bx + w / 2, by + h / 2, str, 12.6, "middle");
}
button(1105, 123, 133, 51, "NOT pass");
button(1105, 181, 133, 51, "Pass");
button(1105, 238, 133, 52, "Sel. bad data");
button(1159, 998, 299, 51, "Test files");
</script>
</body>
</html>
